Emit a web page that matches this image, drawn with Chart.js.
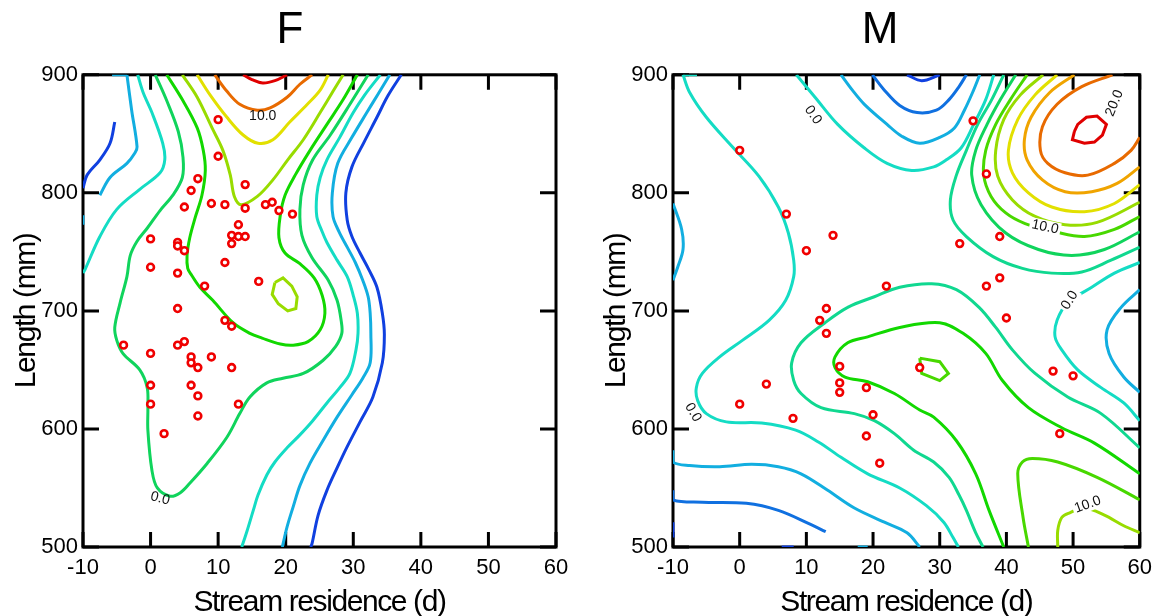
<!DOCTYPE html>
<html>
<head>
<meta charset="utf-8">
<title>Stream residence vs length, F and M</title>
<script src="https://cdn.jsdelivr.net/npm/chart.js@4.4.1/dist/chart.umd.min.js"></script>
<style>
  body { margin: 0; background: #fff; }
  #wrap { position: relative; width: 1160px; height: 616px; }
  .panel { position: absolute; top: 0; height: 616px; }
  #panelF { left: 0; width: 590px; }
  #panelM { left: 600px; width: 560px; }
</style>
</head>
<body>
<div id="wrap">
  <div class="panel" id="panelF"><canvas id="chartF"></canvas></div>
  <div class="panel" id="panelM"><canvas id="chartM"></canvas></div>
</div>
<script>
// @ts-check

const xRange = [-10, 60];   // stream residence (d)
const yRange = [500, 900];  // length (mm)

// fish: [stream residence, length]
const femaleFish = [[10,862],[10,831],[7,812],[6,802],[14,807],[5,788],[9,791],[11,790],[14,787],[17,790],
  [18,792],[19,785],[21,782],[13,773],[12,764],[13,763],[14,763],[12,757],[0,761],[4,758],[4,755],[5,751],
  [0,737],[4,732],[11,741],[16,725],[8,721],[4,702],[11,692],[12,687],[-4,671],[0,664],[4,671],[5,674],
  [6,661],[6,656],[7,652],[9,661],[12,652],[0,637],[6,637],[7,628],[0,621],[13,621],[7,611],[2,596]];
const maleFish = [[0,836],[7,782],[14,764],[10,751],[13,702],[12,692],[13,681],[35,861],[37,816],[39,763],
  [33,757],[22,721],[37,721],[39,728],[40,694],[0,621],[4,638],[8,609],[15,653],[15,639],[15,631],[19,635],
  [20,612],[19,594],[21,571],[27,652],[47,649],[50,645],[48,596]];

// ---- contour lines of F ----
const fDarkBlueLeft = [[-5.3,860],[-6.0,842],[-7.5,828],[-9.4,815],[-10,804]];
const fBlueTopBit = [[-5.7,900],[-3.5,900]];
const fBlueEdgeBit = [[-10,781],[-10,773]];
const fLightBlueLeft = [[-3.5,900],[-2.8,870],[-2.0,839],[-2.3,834],[-3.5,825],[-6.0,813],[-7.5,798]];
const fCyanLeft = [[-1.9,900],[-1.1,885],[0.2,868],[1.8,842],[2.1,828],[1.4,817],[-1.6,803],[-5.0,786],
  [-7.5,763],[-9.7,735],[-10,732]];
const fZero = [[0.7,900],[2.4,878],[4.1,852],[4.8,830],[4.7,813],[3.3,798],[1.4,785],[-0.5,770],[-2.0,759],
  [-3.0,747],[-3.5,729],[-4.5,707],[-5.3,686],[-5.0,675],[-4.1,664],[-1.6,650],[-0.5,635],[-0.4,618],
  [-0.4,599],[0.2,565],[1.0,550],[2.9,543],[4.4,546],[5.8,554],[8.4,571],[11.3,593],[13.2,613],[14.7,627],
  [17.2,639],[19.6,643],[22.6,647],[25.5,658],[27.4,670],[28.3,681],[28.2,692],[27.6,709],[26.3,726],
  [23.9,745],[22.4,764],[22.1,786],[22.6,807],[24.0,828],[26.6,849],[29.5,875],[32.2,900]];
const fGreen = [[2.4,900],[4.8,878],[6.9,855],[7.8,836],[8.1,819],[7.6,798],[6.6,779],[5.8,762],[5.4,747],
  [5.5,736],[6.1,730],[7.3,720],[9.2,709],[12.2,690],[14.7,681],[16.5,677],[19.2,672],[21.1,671],[23.3,674],
  [25.1,684],[25.8,698],[25.4,713],[24.2,728],[22.1,740],[19.9,749],[19.0,762],[19.2,781],[19.9,798],
  [21.4,815],[23.6,836],[26.1,858],[28.5,879],[30.6,900]];
const fYellowGreen = [[4.7,900],[6.9,881],[9.1,855],[10.7,836],[11.8,815],[12.4,797],[13.4,790],[15.8,797],
  [18.1,811],[20.3,828],[22.6,845],[25.1,868],[27.0,886],[28.5,900]];
const fYellowGreenLoop = [[18.4,724],[19.6,728],[20.9,721],[21.7,712],[21.5,702],[20.3,700],[18.9,706],
  [18.0,714],[18.4,724]];
const fYellow = [[6.9,900],[8.8,883],[11.3,864],[13.7,849],[15.9,842],[18.1,845],[20.6,860],[23.2,875],
  [25.1,887],[26.3,900]];
const fOrange = [[9.5,900],[11.3,886],[13.2,875],[15.8,870],[17.7,872],[20.2,881],[22.1,892],[23.9,900]];
const fRed = [[13.7,900],[15.0,896],[16.6,893],[18.4,895],[20.2,900]];
const fCyanRight = [[34.0,900],[31.7,883],[30.0,868],[28.0,847],[26.1,828],[25.1,813],[24.6,798],[24.6,780],
  [25.4,767],[26.1,758],[27.6,743],[29.1,729],[30.0,713],[30.6,698],[30.7,681],[30.4,667],[29.5,647],
  [28.0,635],[26.1,622],[24.0,607],[22.1,595],[20.2,584],[18.4,572],[17.2,561],[15.9,544],[15.2,531],
  [14.3,514],[13.5,500]];
const fLightBlueRight = [[35.4,900],[33.7,884],[32.0,868],[29.8,847],[27.7,825],[26.9,800],[27.0,780],
  [27.9,767],[29.1,754],[30.3,741],[31.4,726],[32.2,712],[32.5,698],[32.6,681],[32.5,656],[31.4,643],
  [29.8,629],[27.6,610],[25.5,590],[23.6,571],[22.1,552],[21.1,534],[20.2,517],[19.5,500]];
const fBlueRight = [[37.1,900],[35.1,882],[33.5,864],[31.6,843],[29.8,822],[28.9,800],[29.1,777],[29.8,763],
  [31.0,749],[32.3,735],[33.5,720],[34.3,698],[34.6,680],[34.3,656],[32.9,627],[31.0,606],[29.1,585],
  [27.6,567],[26.1,548],[24.8,527],[23.9,503],[23.7,500]];

// ---- contour lines of M ----
const mZeroLeft = [[-8.5,900],[-7.5,885],[-5.0,864],[-1.1,839],[2.9,814],[5.8,788],[7.3,766],[8.1,743],
  [8.1,729],[6.9,709],[4.4,692],[0.4,675],[-3.0,661],[-5.6,647],[-6.5,635],[-6.3,624],[-5.0,613],[-2.0,606],
  [3.3,605],[8.4,599],[11.8,589],[15.2,576],[19.2,562],[24.0,550],[28.0,535],[30.6,521],[32.0,508],[32.8,500]];
const mZeroTopBit = [[-8.5,900],[-6.4,900]];
const mZeroTop = [[8.5,900],[11.3,881],[14.7,858],[18.7,838],[22.1,825],[25.8,819],[29.1,822],[31.0,828],
  [33.2,838],[35.1,858],[36.9,879],[38.1,900]];
const mBlueTop = [[19.9,900],[21.7,887],[24.0,874],[26.6,868],[29.5,870],[31.4,879],[32.9,890],[34.0,900]];
const mDarkBlueTop = [[25.1,900],[27.3,895],[30.0,900]];
const mLightBlueTop = [[15.2,900],[16.9,887],[18.7,875],[22.1,858],[24.3,848],[27.0,842],[30.0,847],
  [32.2,855],[33.7,870],[35.0,886],[36.0,900]];
const mLightBlueEdge = [[-10,791],[-8.7,769],[-8.5,752],[-9.3,737],[-10,726]];
const mLightBlueLow = [[-10,582],[-10,572],[-7.5,569],[-3.0,568],[1.8,570],[5.8,568],[9.2,562],[13.2,548],
  [17.2,533],[21.7,521],[25.1,512],[27.0,500]];
const mBlueLow = [[-10,548],[-10,540],[-5.6,538],[1.0,537],[5.8,531],[10.3,520],[12.9,513]];
const mDarkBlueBits = [[[-10,521],[-10,508]], [[6.3,500],[8.1,500]]];
const mLightBlueBit = [[17.7,500],[19.2,500]];
const mTealCentre = [[36.5,500],[35.4,512],[34.0,531],[32.9,544],[31.4,559],[29.1,572],[26.1,582],[23.2,596],
  [20.2,607],[17.2,613],[12.2,618],[9.2,630],[8.1,641],[7.8,656],[9.2,673],[12.8,690],[16.2,703],[20.2,712],
  [24.0,720],[28.8,723],[32.5,718],[35.9,703],[38.4,686],[40.9,667],[44.3,647],[49.2,627],[54.2,613],[60,584]];
const mGreenCentre = [[39.6,500],[37.4,531],[35.4,562],[32.5,590],[29.1,610],[27.0,616],[23.2,630],
  [19.2,640],[15.8,644],[14.3,652],[14.3,661],[16.2,673],[19.2,678],[24.0,686],[30.0,690],[33.5,681],
  [36.9,664],[39.4,641],[43.3,618],[48.3,601],[53.2,588],[60,562]];
const mLimeLoop = [[27.0,660],[30.0,657],[31.3,647],[30.0,641],[27.3,647],[27.0,660]];
const mLimeLow = [[43.3,500],[42.5,525],[41.7,562],[42.4,572],[43.9,575],[47.7,572],[53.6,559],[60,540]];
const mYellowGreenLow = [[47.7,500],[47.7,514],[48.3,525],[49.5,529],[51.7,533],[54.7,527],[57.6,518],[60,512]];
const mZeroRight = [[60,741],[56.2,732],[52.8,720],[49.2,707],[47.6,692],[47.3,678],[48.3,667],[50.7,650],
  [54.2,635],[57.6,622],[60,607]];
const mLightBlueRight = [[60,718],[57.2,703],[55.1,684],[55.4,664],[57.6,644],[60,631]];
const mTealPeak = [[39.6,900],[37.8,879],[35.7,858],[34.0,836],[32.5,815],[31.6,794],[32.0,777],[34.0,763],
  [38.0,746],[42.4,736],[46.8,732],[51.3,733],[55.7,743],[60,754]];
const mGreenPeak = [[41.4,900],[39.1,879],[37.1,858],[35.4,836],[34.8,815],[36.2,790],[39.9,766],[44.8,752],
  [49.8,747],[54.7,752],[60,767]];
const mTenPeak = [[43.1,900],[40.6,879],[38.4,858],[36.9,836],[36.6,815],[37.7,797],[39.9,783],[42.8,774],
  [47.3,767],[51.7,763],[56.2,769],[60,780]];
const mYellowGreenPeak = [[45.5,900],[42.1,883],[39.6,862],[38.4,836],[38.7,814],[40.9,794],[44.3,780],
  [48.8,773],[53.6,775],[60,792]];
const mYellowPeak = [[47.6,900],[44.3,883],[41.7,862],[40.3,836],[40.9,817],[43.3,800],[46.8,788],[51.7,784],
  [56.2,791],[60,807]];
const mAmberPeak = [[50.2,900],[46.5,885],[43.7,864],[42.7,845],[43.1,828],[45.4,811],[48.8,801],[52.8,801],
  [56.6,808],[60,822]];
const mOrangePeak = [[55.9,900],[51.3,890],[47.6,875],[45.4,856],[45.1,836],[46.2,825],[48.8,817],[52.2,815],
  [56.2,825],[58.7,836],[60,847]];
const mRedPeak = [[50.2,852],[50.7,858],[52.0,864],[53.6,865],[55.0,858],[54.4,849],[53.2,843],[51.7,842],
  [49.9,845],[50.2,852]];

// contour level labels: [text, x, y]
const femaleLabels = [['10.0', 16.6, 865], ['0.0', 1.4, 541]];
const maleLabels = [['0.0', 11.0, 866], ['20.0', 56.2, 876], ['10.0', 45.8, 771], ['0.0', 49.5, 709],
  ['0.0', -7.0, 614], ['10.0', 52.2, 536]];

// ---- styling ----
const FONT = '"Liberation Sans", Arial, sans-serif';
const lineColours = {
  darkBlue: '#1040e0', blue: '#1070e0', lightBlue: '#12aee0', cyan: '#14dcc4', teal: '#10d890',
  zeroGreen: '#10d45c', green: '#12d800', lime: '#48d800', yellowGreen: '#98dc00', yellow: '#e2e000',
  amber: '#f0a400', orange: '#e86a00', red: '#e00000'
};
const polygonal = [fYellowGreenLoop, mLimeLoop, mRedPeak];

const femaleLines = [
  ['darkBlue', fDarkBlueLeft], ['lightBlue', fBlueTopBit], ['lightBlue', fBlueEdgeBit],
  ['lightBlue', fLightBlueLeft], ['cyan', fCyanLeft], ['zeroGreen', fZero], ['green', fGreen],
  ['yellowGreen', fYellowGreen], ['yellowGreen', fYellowGreenLoop], ['yellow', fYellow], ['orange', fOrange],
  ['red', fRed], ['cyan', fCyanRight], ['lightBlue', fLightBlueRight], ['darkBlue', fBlueRight]
];
const maleLines = [
  ['cyan', mZeroLeft], ['cyan', mZeroTopBit], ['cyan', mZeroTop], ['blue', mBlueTop], ['darkBlue', mDarkBlueTop],
  ['lightBlue', mLightBlueTop], ['lightBlue', mLightBlueEdge], ['lightBlue', mLightBlueLow], ['blue', mBlueLow],
  ['darkBlue', mDarkBlueBits[0]], ['darkBlue', mDarkBlueBits[1]], ['lightBlue', mLightBlueBit],
  ['teal', mTealCentre], ['green', mGreenCentre], ['lime', mLimeLoop], ['lime', mLimeLow],
  ['yellowGreen', mYellowGreenLow], ['cyan', mZeroRight], ['lightBlue', mLightBlueRight],
  ['teal', mTealPeak], ['zeroGreen', mGreenPeak], ['lime', mTenPeak], ['yellowGreen', mYellowGreenPeak],
  ['yellow', mYellowPeak], ['amber', mAmberPeak], ['orange', mOrangePeak], ['red', mRedPeak]
];
const femaleLabelTilt = [0, 15];
const maleLabelTilt = [55, -68, 12, -58, 60, -20];
const maleLabelGap = [false, false, true, true, true, true];

function toXY(pts) {
  return pts.map(p => ({ x: p[0], y: p[1] }));
}

function contourDatasets(lines) {
  return lines.map(([key, pts]) => ({
    type: 'line',
    data: toXY(pts),
    borderColor: lineColours[key],
    borderWidth: 3,
    pointRadius: 0,
    fill: false,
    tension: polygonal.includes(pts) ? 0 : 0.35
  }));
}

// black frame with inward ticks on all four sides
const framePlugin = {
  id: 'frame',
  beforeDatasetsDraw(chart) {
    const { ctx, chartArea: a, scales: { x, y } } = chart;
    ctx.save();
    ctx.strokeStyle = '#000';
    ctx.lineWidth = 3;
    ctx.strokeRect(a.left, a.top, a.right - a.left, a.bottom - a.top);
    ctx.beginPath();
    x.ticks.forEach(t => {
      const px = x.getPixelForValue(t.value);
      ctx.moveTo(px, a.bottom); ctx.lineTo(px, a.bottom - 15);
      ctx.moveTo(px, a.top); ctx.lineTo(px, a.top + 15);
    });
    y.ticks.forEach(t => {
      const py = y.getPixelForValue(t.value);
      ctx.moveTo(a.left, py); ctx.lineTo(a.left + 16, py);
      ctx.moveTo(a.right, py); ctx.lineTo(a.right - 16, py);
    });
    ctx.stroke();
    ctx.restore();
  }
};

// axis titles and contour level labels
const textPlugin = {
  id: 'panelText',
  afterDatasetsDraw(chart, args, opts) {
    const { ctx, chartArea: a, scales: { x, y } } = chart;
    ctx.save();
    ctx.fillStyle = '#000';
    ctx.font = '30px ' + FONT;
    ctx.letterSpacing = '-1.4px';
    ctx.textAlign = 'center';
    ctx.textBaseline = 'alphabetic';
    ctx.fillText('Stream residence (d)', (a.left + a.right) / 2, a.bottom + 64);
    ctx.translate(a.left - 48, (a.top + a.bottom) / 2);
    ctx.rotate(-Math.PI / 2);
    ctx.fillText('Length (mm)', 0, 0);
    ctx.restore();

    ctx.save();
    ctx.font = '14px ' + FONT;
    ctx.textAlign = 'center';
    ctx.textBaseline = 'middle';
    opts.labels.forEach(([text, xv, yv], i) => {
      const w = ctx.measureText(text).width;
      ctx.save();
      ctx.translate(x.getPixelForValue(xv), y.getPixelForValue(yv));
      ctx.rotate(opts.tilt[i] * Math.PI / 180);
      if (opts.gap[i]) {
        ctx.fillStyle = '#fff';
        ctx.fillRect(-w / 2 - 2, -7, w + 4, 14);
      }
      ctx.fillStyle = '#111';
      ctx.fillText(text, 0, 0);
      ctx.restore();
    });
    ctx.restore();
  }
};

function makeChart(canvasId, title, fish, lines, labels, tilt, gap, padLeft, padRight) {
  return new Chart(document.getElementById(canvasId), {
    type: 'scatter',
    data: {
      datasets: [
        {
          data: toXY(fish),
          pointStyle: 'circle',
          pointRadius: 3.4,
          borderWidth: 2.6,
          borderColor: '#f00000',
          backgroundColor: '#ffffff'
        },
        ...contourDatasets(lines)
      ]
    },
    options: {
      responsive: true,
      maintainAspectRatio: false,
      animation: false,
      layout: { padding: { left: padLeft, right: padRight, top: 0, bottom: 0 } },
      plugins: {
        legend: { display: false },
        tooltip: { enabled: false },
        title: {
          display: true,
          text: title,
          color: '#000',
          font: { family: FONT, size: 44, weight: 'normal', lineHeight: 1.2 },
          padding: { top: 4, bottom: 18 }
        },
        panelText: { labels: labels, tilt: tilt, gap: gap }
      },
      scales: {
        x: {
          type: 'linear',
          min: xRange[0],
          max: xRange[1],
          grid: { display: false, drawTicks: false },
          border: { display: false },
          ticks: { stepSize: 10, color: '#000', padding: 8, font: { family: FONT, size: 22 } },
          afterFit: s => { s.height = 69; }
        },
        y: {
          type: 'linear',
          min: yRange[0],
          max: yRange[1],
          grid: { display: false, drawTicks: false },
          border: { display: false },
          ticks: { stepSize: 100, color: '#000', padding: 5, font: { family: FONT, size: 22 } },
          afterFit: s => { s.width = 59; }
        }
      }
    },
    plugins: [framePlugin, textPlugin]
  });
}

makeChart('chartF', 'F', femaleFish, femaleLines, femaleLabels, femaleLabelTilt, [false, false], 24, 34);
makeChart('chartM', 'M', maleFish, maleLines, maleLabels, maleLabelTilt, maleLabelGap, 14, 14);
</script>
</body>
</html>
